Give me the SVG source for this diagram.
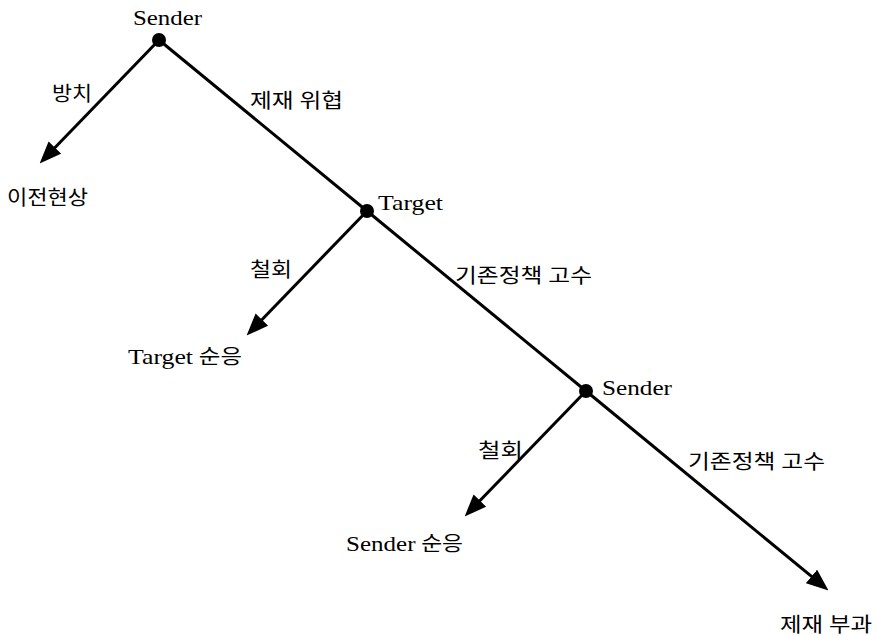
<svg xmlns="http://www.w3.org/2000/svg" width="877" height="636" viewBox="0 0 877 636">
<style>
  .t { font-family: "Liberation Serif", "Noto Sans CJK KR", serif; font-size: 20px; fill: #000; }
  .lat { font-size: 22px; }
  .edge { stroke: #000; stroke-width: 3; fill: none; }
  .arr { marker-end: url(#ah); }
  .dot { fill: #000; }
</style>
<defs>
  <marker id="ah" markerUnits="userSpaceOnUse" markerWidth="22" markerHeight="18" viewBox="0 0 20 16" refX="14" refY="8" orient="auto">
    <path d="M0,0 L20,8 L0,16 z" fill="#000"/>
  </marker>
</defs>
<rect width="877" height="636" fill="#fff"/>
<g id="connectors">
  <line class="edge arr" x1="159" y1="40" x2="44.2" y2="158.7"/>
  <line class="edge" x1="159" y1="40" x2="367" y2="211"/>
  <line class="edge arr" x1="367" y1="211" x2="251.2" y2="330.7"/>
  <line class="edge" x1="367" y1="211" x2="586" y2="391"/>
  <line class="edge arr" x1="586" y1="391" x2="469.2" y2="511.7"/>
  <line class="edge arr" x1="586" y1="391" x2="823.4" y2="586.2"/>
  <text class="t" x="52" y="101" textLength="40" lengthAdjust="spacingAndGlyphs">방치</text>
  <text class="t" x="250" y="108" textLength="93" lengthAdjust="spacingAndGlyphs">제재 위협</text>
  <text class="t" x="250" y="277" textLength="42" lengthAdjust="spacingAndGlyphs">철회</text>
  <text class="t" x="455" y="283" textLength="137" lengthAdjust="spacingAndGlyphs">기존정책 고수</text>
  <text class="t" x="478" y="458" textLength="45" lengthAdjust="spacingAndGlyphs">철회</text>
  <text class="t" x="688" y="469" textLength="137" lengthAdjust="spacingAndGlyphs">기존정책 고수</text>
</g>
<g id="node-sender1">
  <circle class="dot" cx="159" cy="40" r="7"/>
  <text class="t lat" x="133" y="25" textLength="69" lengthAdjust="spacingAndGlyphs">Sender</text>
</g>
<g id="node-status-quo">
  <text class="t" x="7" y="205" textLength="81" lengthAdjust="spacingAndGlyphs">이전현상</text>
</g>
<g id="node-target">
  <circle class="dot" cx="367" cy="211" r="7"/>
  <text class="t lat" x="378" y="210" textLength="65" lengthAdjust="spacingAndGlyphs">Target</text>
</g>
<g id="node-target-comply">
  <text class="t" x="128" y="364" textLength="114" lengthAdjust="spacingAndGlyphs"><tspan class="lat">Target</tspan> 순응</text>
</g>
<g id="node-sender2">
  <circle class="dot" cx="586" cy="391" r="7"/>
  <text class="t lat" x="602" y="395" textLength="70" lengthAdjust="spacingAndGlyphs">Sender</text>
</g>
<g id="node-sender-comply">
  <text class="t" x="346" y="551" textLength="117" lengthAdjust="spacingAndGlyphs"><tspan class="lat">Sender</tspan> 순응</text>
</g>
<g id="node-sanction">
  <text class="t" x="780" y="632" textLength="92" lengthAdjust="spacingAndGlyphs">제재 부과</text>
</g>
</svg>
